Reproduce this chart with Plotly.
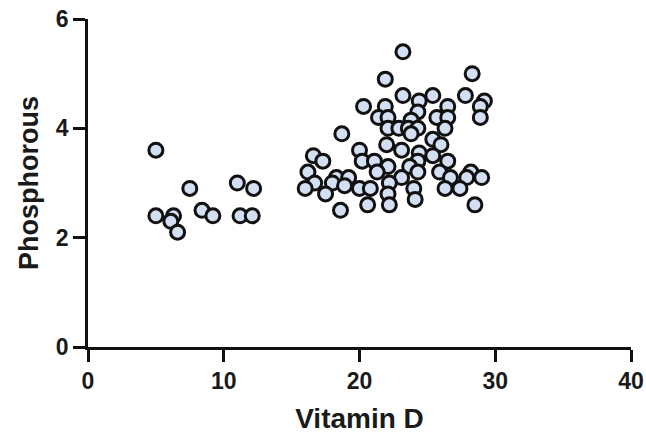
import plotly.graph_objects as go

vitamin_d = [
    5.0, 5.0, 6.3, 6.1, 6.6, 7.5, 8.4, 9.2, 11.0, 12.2, 11.2, 12.1,
    23.2, 28.3, 21.9, 23.2, 25.4, 27.8, 24.4, 29.2, 20.3, 21.9, 26.5, 28.9,
    24.3, 21.4, 22.1, 25.7, 26.5, 28.9, 23.8, 22.1, 22.9, 23.6, 24.3, 26.3,
    23.8, 18.7, 25.4, 22.0, 26.0, 23.1, 20.0, 24.4, 16.6, 17.3, 20.2, 21.1,
    25.4, 24.3, 26.5, 22.1, 23.7, 16.2, 21.3, 24.3, 25.9, 28.2, 18.3, 19.2,
    23.1, 26.7, 27.9, 29.0, 16.7, 18.0, 22.2, 16.0, 18.9, 20.0, 20.8, 24.0,
    26.3, 27.4, 17.5, 22.1, 24.1, 20.6, 22.2, 28.5, 18.6,
]
phosphorous = [
    3.6, 2.4, 2.4, 2.3, 2.1, 2.9, 2.5, 2.4, 3.0, 2.9, 2.4, 2.4,
    5.4, 5.0, 4.9, 4.6, 4.6, 4.6, 4.5, 4.5, 4.4, 4.4, 4.4, 4.4,
    4.3, 4.2, 4.2, 4.2, 4.2, 4.2, 4.15, 4.0, 4.0, 4.0, 4.0, 4.0,
    3.9, 3.9, 3.8, 3.7, 3.7, 3.6, 3.6, 3.55, 3.5, 3.4, 3.4, 3.4,
    3.5, 3.4, 3.4, 3.3, 3.3, 3.2, 3.2, 3.2, 3.2, 3.2, 3.1, 3.1,
    3.1, 3.1, 3.1, 3.1, 3.0, 3.0, 3.0, 2.9, 2.95, 2.9, 2.9, 2.9,
    2.9, 2.9, 2.8, 2.8, 2.7, 2.6, 2.6, 2.6, 2.5,
]

x_ticks = [0, 10, 20, 30, 40]
y_ticks = [0, 2, 4, 6]

fig = go.Figure(
    go.Scatter(
        x=vitamin_d,
        y=phosphorous,
        mode="markers",
        marker=dict(size=14, color="#d3dff2", line=dict(color="#111111", width=3)),
        cliponaxis=False,
    )
)

font_family = "Liberation Sans, Arial, sans-serif"
ink = "#1a1a1a"
fig.update_layout(
    width=646,
    height=434,
    margin=dict(l=88, r=15, t=19, b=87),
    plot_bgcolor="white",
    paper_bgcolor="white",
    showlegend=False,
    font=dict(family=font_family, color=ink),
)
axis_common = dict(
    showgrid=False,
    zeroline=False,
    showline=True,
    linecolor="#111111",
    linewidth=2.6,
    ticks="outside",
    ticklen=12,
    tickwidth=2.8,
    tickcolor="#111111",
    automargin=False,
    tickfont=dict(size=23, family=font_family, color=ink),
)
fig.update_xaxes(
    range=[0, 40],
    tickvals=x_ticks,
    ticktext=[f"<b>{v}</b>" for v in x_ticks],
    title=dict(text="<b>Vitamin D</b>", font=dict(size=28, family=font_family, color=ink), standoff=20),
    **axis_common,
)
fig.update_yaxes(
    range=[0, 6],
    tickvals=y_ticks,
    ticktext=[f"<b>{v}</b>" for v in y_ticks],
    title=dict(text="<b>Phosphorous</b>", font=dict(size=27, family=font_family, color=ink), standoff=10),
    **axis_common,
)

# remove the default 8px page margin so the figure fills the window exactly
fig.write_html(
    "out.html",
    config={"displayModeBar": False},
    post_script="document.body.style.margin='0';",
)
